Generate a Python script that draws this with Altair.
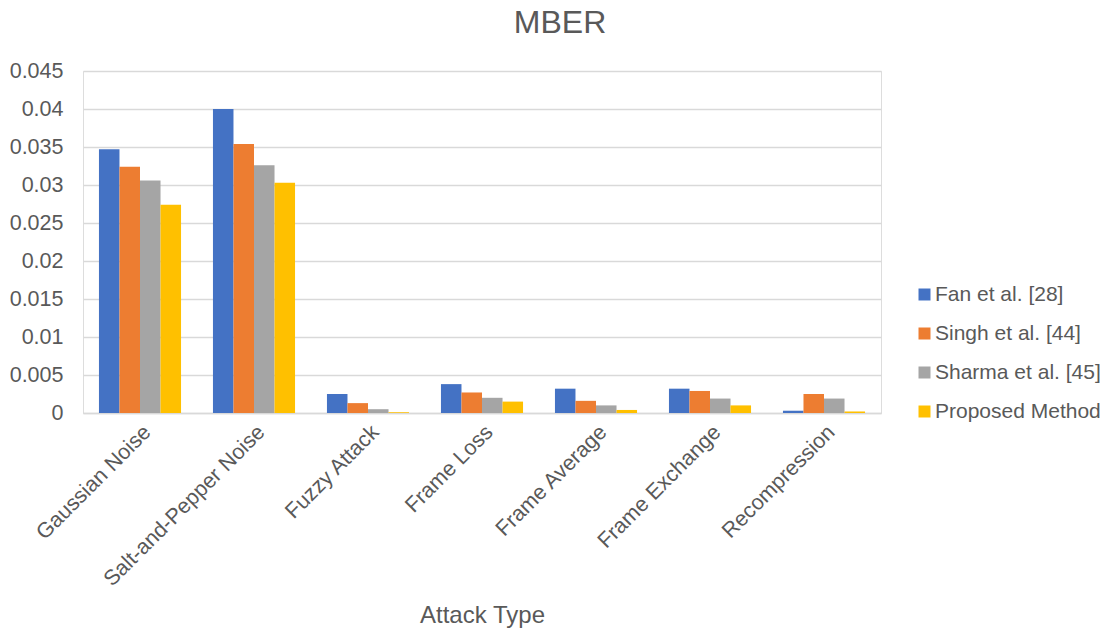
import altair as alt
import pandas as pd

attacks = ["Gaussian Noise", "Salt-and-Pepper Noise", "Fuzzy Attack", "Frame Loss",
           "Frame Average", "Frame Exchange", "Recompression"]
methods = ["Fan et al. [28]", "Singh et al. [44]", "Sharma et al. [45]", "Proposed Method"]
colors = ["#4472C4", "#ED7D31", "#A5A5A5", "#FFC000"]

fan = [0.0347, 0.0400, 0.0025, 0.0038, 0.0032, 0.0032, 0.0003]
singh = [0.0324, 0.0354, 0.0013, 0.0027, 0.0016, 0.0029, 0.0025]
sharma = [0.0306, 0.0326, 0.0005, 0.0020, 0.0010, 0.0019, 0.0019]
proposed = [0.0274, 0.0303, 0.0001, 0.0015, 0.0004, 0.0010, 0.0002]

rows = []
for name, vals in zip(methods, [fan, singh, sharma, proposed]):
    for a, v in zip(attacks, vals):
        rows.append({"Attack": a, "Method": name, "MBER": v})
df = pd.DataFrame(rows)

font = "Liberation Sans"
grey = "#595959"

chart = alt.Chart(df).mark_bar().encode(
    x=alt.X("Attack:N", sort=attacks, title="Attack Type",
            scale=alt.Scale(paddingInner=0.28, paddingOuter=0.14),
            axis=alt.Axis(labelAngle=-45, labelFontSize=21.5, labelColor=grey, labelFont=font,
                          labelLimit=0,
                          titleFontSize=24, titleColor=grey, titleFont=font, titleFontWeight="normal",
                          ticks=False, domainColor="#d9d9d9", domainWidth=1.5, labelPadding=8,
                          titlePadding=13)),
    xOffset=alt.XOffset("Method:N", sort=methods),
    y=alt.Y("MBER:Q", title=None,
            scale=alt.Scale(domain=[0, 0.045], nice=False),
            axis=alt.Axis(values=[0, 0.005, 0.01, 0.015, 0.02, 0.025, 0.03, 0.035, 0.04, 0.045],
                          labelExpr="format(datum.value, '')",
                          labelFontSize=21.5, labelColor=grey, labelFont=font,
                          ticks=False, domain=False, gridColor="#d9d9d9", gridWidth=1.5,
                          labelPadding=20)),
    color=alt.Color("Method:N", sort=methods, scale=alt.Scale(domain=methods, range=colors),
                    legend=alt.Legend(title=None, orient="none", legendX=831, legendY=213,
                                      padding=0, labelLimit=0,
                                      symbolType="square", symbolSize=144, symbolStrokeWidth=0,
                                      labelFontSize=21, labelColor=grey, labelFont=font,
                                      labelOffset=0, rowPadding=17)),
).properties(
    width=798, height=342,
    title=alt.TitleParams("MBER", fontSize=32, color=grey, font=font, fontWeight="normal",
                          anchor="middle", dx=78, offset=20),
    autosize=alt.AutoSizeParams(type="none"),
    padding={"left": 83, "top": 71, "right": 224, "bottom": 218},
).configure_view(stroke=None).configure(background="white")

chart.save("out.html", embed_options={"renderer": "svg", "actions": False})
